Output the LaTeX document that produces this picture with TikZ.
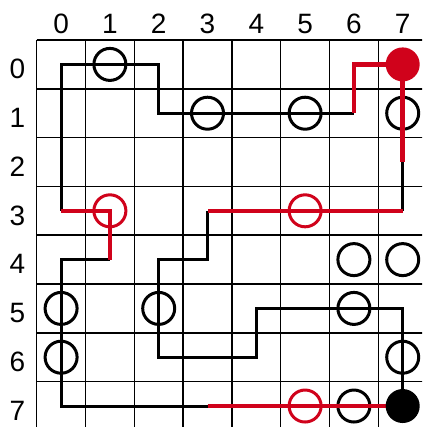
\documentclass[tikz,border=0pt]{standalone}
\usepackage{fontspec}
\setmainfont{Liberation Sans}
\definecolor{mred}{RGB}{208,2,27}
\begin{document}
\begin{tikzpicture}[x=48.8pt,y=-48.8pt,
  gridline/.style={line width=1.5pt,black},
  blk/.style={line width=3pt,black,line join=miter},
  rd/.style={line width=4.5pt,mred,line join=miter},
  ring/.style={circle,draw=black,line width=3pt,minimum size=32pt,inner sep=0pt},
  rring/.style={ring,draw=mred},
  dotr/.style={circle,fill=mred,minimum size=34pt,inner sep=0pt},
  dotk/.style={circle,fill=black,minimum size=34pt,inner sep=0pt},
  lbl/.style={font=\fontsize{28pt}{33pt}\selectfont,anchor=base,inner sep=0pt}]
\useasboundingbox (-0.752,-0.820) rectangle (7.896,7.930);
\clip (-0.752,-0.820) rectangle (7.896,7.930);
\foreach \i in {0,...,8}{
  \draw[gridline] (\i,0) -- (\i,8);
  \draw[gridline] (0,\i) -- (8,\i);
}
\foreach \c in {0,...,7}{
  \node[lbl] (col\c) at (\c+0.5,-0.137) {\c};
  \node[lbl] (row\c) at (-0.393,\c+0.5+0.293) {\c};
  \foreach \r in {0,...,7}{
    \coordinate (p\c\r) at (\c+0.5,\r+0.5);
  }
}
% black paths
\draw[blk] (p03) -- (p00) -- (p20) -- (p21) -- (p61);
\draw[blk] (p72) -- (p73);
\draw[blk] (p33) -- (p34) -- (p24) -- (p26) -- (p46) -- (p45) -- (p75) -- (p77);
\draw[blk] (p14) -- (p04) -- (p07) -- (p37);
% open circles
\foreach \c/\r in {1/0,3/1,5/1,7/1,6/4,7/4,0/5,2/5,6/5,0/6,7/6,6/7}{
  \node[ring] (k\c\r) at (p\c\r) {};
}
\foreach \c/\r in {1/3,5/3,5/7}{
  \node[rring] (r\c\r) at (p\c\r) {};
}
% red paths
\draw[rd] (p61) -- (p60) -- (p70) -- (p72);
\draw[rd] (p73) -- (p33);
\draw[rd] (p03) -- (p13) -- (p14);
\draw[rd] (p37) -- (p77);
% filled circles
\node[dotr] (start) at (p70) {};
\node[dotk] (finish) at (p77) {};
\end{tikzpicture}
\end{document}
